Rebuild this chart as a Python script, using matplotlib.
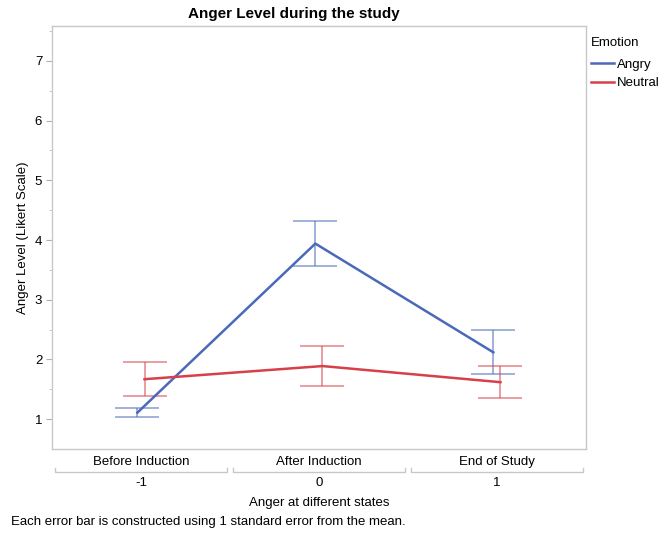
import numpy as np
import matplotlib.pyplot as plt
from matplotlib.transforms import blended_transform_factory

plt.rcParams['font.family'] = ['Liberation Sans', 'DejaVu Sans']

states = ["Before Induction", "After Induction", "End of Study"]
state_codes = ["-1", "0", "1"]

angry_mean = [1.11, 3.94, 2.12]
angry_se = [0.08, 0.38, 0.37]
neutral_mean = [1.67, 1.89, 1.62]
neutral_se = [0.28, 0.33, 0.27]

blue = "#4a69b9"
red = "#d7404b"

fig = plt.figure(figsize=(6.62, 5.34), dpi=100)
ax = fig.add_axes([0.0785, 0.159, 0.8065, 0.792])

x = np.arange(len(states))
dodge = 0.02

for means, ses, col, name, off in [(angry_mean, angry_se, blue, "Angry", -dodge),
                                   (neutral_mean, neutral_se, red, "Neutral", dodge)]:
    ax.errorbar(x + off, means, yerr=ses, fmt="none", ecolor=col, alpha=0.6,
                elinewidth=1.2, capsize=15.8, capthick=1.2, zorder=2)
    ax.plot(x + off, means, color=col, lw=1.8, label=name, zorder=3)

ax.set_xlim(-0.5, 2.5)
ax.set_ylim(0.5, 7.58)
ax.set_yticks(range(1, 8))
ax.set_yticks(np.arange(1.5, 7.6, 1), minor=True)
ax.tick_params(axis="y", which="major", length=4, color="#b0b0b0", labelsize=9.5, pad=3)
ax.tick_params(axis="y", which="minor", length=2, color="#c0c0c0")
for s in ax.spines.values():
    s.set_color("#c8c8c8")
    s.set_linewidth(1.0)

# nested category axis: state names, bracket, numeric code
ax.set_xticks(x)
ax.set_xticklabels(states, fontsize=9.5)
ax.tick_params(axis="x", length=0, pad=5)
tr = blended_transform_factory(ax.transData, ax.transAxes)
for xi, code in zip(x, state_codes):
    ax.plot([xi - 0.485, xi - 0.485, xi + 0.485, xi + 0.485],
            [-0.045, -0.053, -0.053, -0.045], color="#c8c8c8", lw=1.0,
            transform=tr, clip_on=False)
    ax.text(xi, -0.08, code, transform=tr, ha="center", va="center", fontsize=9.5)

ax.set_ylabel("Anger Level (Likert Scale)", fontsize=9.5, labelpad=4)
fig.text(319 / 662, 1 - 503 / 534, "Anger at different states", ha="center",
         va="center", fontsize=9.5)

fig.text(294 / 662, 1 - 14 / 534, "Anger Level during the study", ha="center",
         va="center", fontsize=11, fontweight="bold")
fig.text(11 / 662, 1 - 522 / 534, "Each error bar is constructed using 1 standard error from the mean.",
         ha="left", va="center", fontsize=9.5)

leg = fig.legend(title="Emotion", loc="upper left", bbox_to_anchor=(591 / 662, 1 - 37 / 534),
                 frameon=False, fontsize=9.5, title_fontsize=9.5, handlelength=1.75,
                 handletextpad=0.2, labelspacing=0.45, borderpad=0, borderaxespad=0)
leg._legend_box.align = "left"
leg._legend_box.sep = 7

fig.savefig("out.png", dpi=100)
